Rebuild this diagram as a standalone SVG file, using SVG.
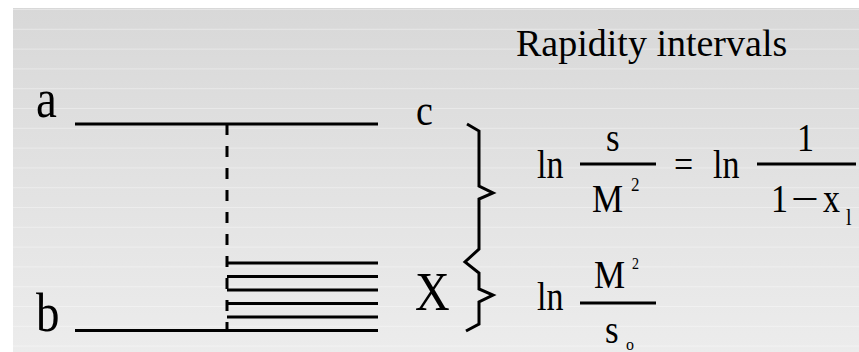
<svg xmlns="http://www.w3.org/2000/svg" width="859" height="352" viewBox="0 0 859 352">
  <defs>
    <linearGradient id="bg" x1="0" y1="0" x2="0" y2="1">
      <stop offset="0" stop-color="#d8d8d8"/>
      <stop offset="1" stop-color="#ececec"/>
    </linearGradient>
    <pattern id="stripes" x="0" y="9" width="20" height="19.8" patternUnits="userSpaceOnUse">
      <rect x="0" y="0" width="20" height="1" fill="#ffffff" fill-opacity="0.35"/>
    </pattern>
  </defs>
  <style>
    .ln { stroke: #000; stroke-width: 3; fill: none; }
    .dash { stroke: #000; stroke-width: 3; stroke-dasharray: 11 11; fill: none; }
  </style>
  <rect x="0" y="0" width="859" height="352" fill="#ffffff"/>
  <rect x="13" y="8" width="846" height="344" fill="url(#bg)"/>
  <rect x="13" y="8" width="846" height="344" fill="url(#stripes)"/>

  <g font-family="Liberation Serif" fill="#000">
  <text x="516" y="56" font-size="38">Rapidity intervals</text>

  <g id="connectors">
    <line class="dash" x1="227" y1="124" x2="227" y2="331"/>
  </g>

  <g id="line-a">
    <line class="ln" x1="75" y1="124" x2="378" y2="124"/>
    <text transform="translate(36,117) scale(1,1.18)" font-size="47">a</text>
  </g>
  <g id="line-b">
    <line class="ln" x1="75" y1="330.5" x2="378" y2="330.5"/>
    <text transform="translate(36,331) scale(1,1.18)" font-size="47">b</text>
  </g>
  <g id="label-c">
    <text transform="translate(416,125) scale(1,1.15)" font-size="38">c</text>
  </g>
  <g id="cluster-X">
    <line class="ln" x1="227" y1="263" x2="378" y2="263"/>
    <line class="ln" x1="227" y1="276.5" x2="378" y2="276.5"/>
    <line class="ln" x1="227" y1="290" x2="378" y2="290"/>
    <line class="ln" x1="227" y1="303.5" x2="378" y2="303.5"/>
    <line class="ln" x1="227" y1="317" x2="378" y2="317"/>
    <text transform="translate(415,310) scale(1,1.15)" font-size="48">X</text>
  </g>

  <g id="braces">
    <polyline class="ln" stroke-width="2.5" points="467,124 479,131 479,186 493,193 479,199 479,249 465,262 479,273 479,289 493,295 479,302 479,324 466,331"/>
  </g>

  <g id="eq1">
    <text transform="translate(537,178) scale(1,1.15)" font-size="34">ln</text>
    <text transform="translate(606,151) scale(1,1.15)" font-size="35">s</text>
    <line class="ln" x1="580" y1="164" x2="656" y2="164"/>
    <text transform="translate(592,212) scale(1,1.15)" font-size="35">M</text>
    <text transform="translate(631,191) scale(1,1.15)" font-size="17">2</text>
    <text transform="translate(674,178) scale(1,1.15)" font-size="34">=</text>
    <text transform="translate(713,178) scale(1,1.15)" font-size="34">ln</text>
    <text transform="translate(797,151) scale(1,1.15)" font-size="34">1</text>
    <line class="ln" x1="757" y1="164" x2="856" y2="164"/>
    <text transform="translate(771,212) scale(1,1.15)" font-size="34">1</text>
    <text transform="translate(791,212) scale(1.45,1.15)" font-size="34">−</text>
    <text transform="translate(823,212) scale(1,1.15)" font-size="34">x</text>
    <text transform="translate(846,225) scale(1,1.15)" font-size="20">l</text>
  </g>

  <g id="eq2">
    <text transform="translate(537,310) scale(1,1.15)" font-size="34">ln</text>
    <text transform="translate(594,288) scale(1,1.15)" font-size="35">M</text>
    <text transform="translate(632,269) scale(1,1.15)" font-size="14">2</text>
    <line class="ln" x1="580" y1="303" x2="656" y2="303"/>
    <text transform="translate(605,343) scale(1,1.15)" font-size="35">s</text>
    <text transform="translate(626,350) scale(1,1.1)" font-size="16">o</text>
  </g>
  </g>
</svg>
